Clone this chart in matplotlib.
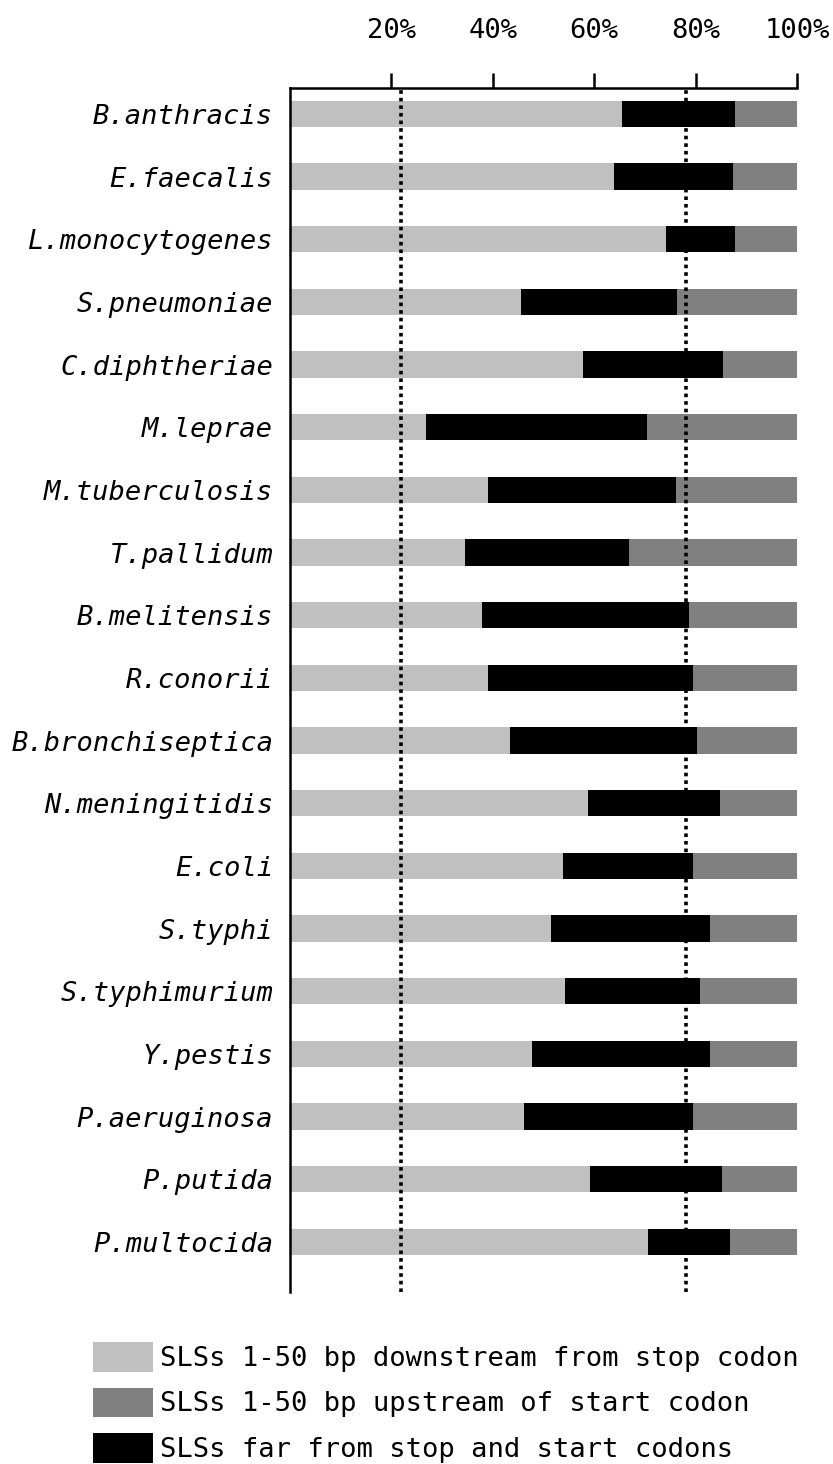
import matplotlib
matplotlib.use("Agg")
import matplotlib.pyplot as plt
from matplotlib.patches import Patch

species = ["B.anthracis", "E.faecalis", "L.monocytogenes", "S.pneumoniae",
           "C.diphtheriae", "M.leprae", "M.tuberculosis", "T.pallidum",
           "B.melitensis", "R.conorii", "B.bronchiseptica", "N.meningitidis",
           "E.coli", "S.typhi", "S.typhimurium", "Y.pestis", "P.aeruginosa",
           "P.putida", "P.multocida"]

# percentage of SLSs in each class
downstream_stop = [65.5, 63.8, 74.1, 45.5, 57.7, 26.9, 39.1, 34.5, 37.9, 39.0,
                   43.4, 58.7, 53.8, 51.4, 54.2, 47.8, 46.2, 59.2, 70.5]
far_from_codons = [22.2, 23.5, 13.7, 30.8, 27.7, 43.5, 37.0, 32.3, 40.8, 40.4,
                   36.9, 26.0, 25.6, 31.4, 26.6, 35.1, 33.2, 25.9, 16.2]
upstream_start = [12.3, 12.7, 12.2, 23.7, 14.6, 29.6, 23.9, 33.2, 21.3, 20.6,
                  19.7, 15.3, 20.6, 17.2, 19.2, 17.1, 20.6, 14.9, 13.3]

tick_values = [20, 40, 60, 80, 100]
tick_labels = ["20%", "40%", "60%", "80%", "100%"]
reference_lines = [22, 78]

legend_labels = ["SLSs 1-50 bp downstream from stop codon",
                 "SLSs 1-50 bp upstream of start codon",
                 "SLSs far from stop and start codons"]

c_light, c_mid, c_dark = "#c0c0c0", "#808080", "#000000"

plt.rcParams["font.family"] = ["DejaVu Sans Mono"]
FS = 19.5

fig = plt.figure(figsize=(8.33, 14.64), dpi=100)
ax = fig.add_axes([0.348, 0.1175, 0.609, 0.8224])

ypos = list(range(len(species)))
h = 0.42
ax.barh(ypos, downstream_stop, height=h, color=c_light, zorder=2)
left2 = downstream_stop
ax.barh(ypos, far_from_codons, left=left2, height=h, color=c_dark, zorder=2)
left3 = [a + b for a, b in zip(downstream_stop, far_from_codons)]
ax.barh(ypos, upstream_start, left=left3, height=h, color=c_mid, zorder=2)

for xv in reference_lines:
    ax.axvline(xv, color="black", lw=2.6, linestyle=(0, (1, 1.1)),
               dash_capstyle="butt", zorder=3)

ax.set_xlim(0, 100)
ax.set_ylim(18.8, -0.415)

ax.xaxis.tick_top()
ax.set_xticks(tick_values)
ax.set_xticklabels(tick_labels, fontsize=FS)
ax.tick_params(axis="x", direction="out", length=11, width=1.8, pad=20.5,
               colors="black")

ax.set_yticks(ypos)
ax.set_yticklabels(species, fontsize=FS, style="italic")
ax.tick_params(axis="y", length=0, pad=12)

for side in ["right", "bottom"]:
    ax.spines[side].set_visible(False)
for side in ["top", "left"]:
    ax.spines[side].set_linewidth(1.8)
    ax.spines[side].set_color("black")

handles = [Patch(facecolor=c_light, edgecolor="none"),
           Patch(facecolor=c_mid, edgecolor="none"),
           Patch(facecolor=c_dark, edgecolor="none")]
fig.legend(handles, legend_labels, loc="upper left",
           bbox_to_anchor=(0.1116, 0.0833), frameon=False, fontsize=FS,
           handlelength=2.2, handleheight=1.3, handletextpad=0.28,
           labelspacing=0.58, borderpad=0, borderaxespad=0)

fig.savefig("out.png", dpi=100)
